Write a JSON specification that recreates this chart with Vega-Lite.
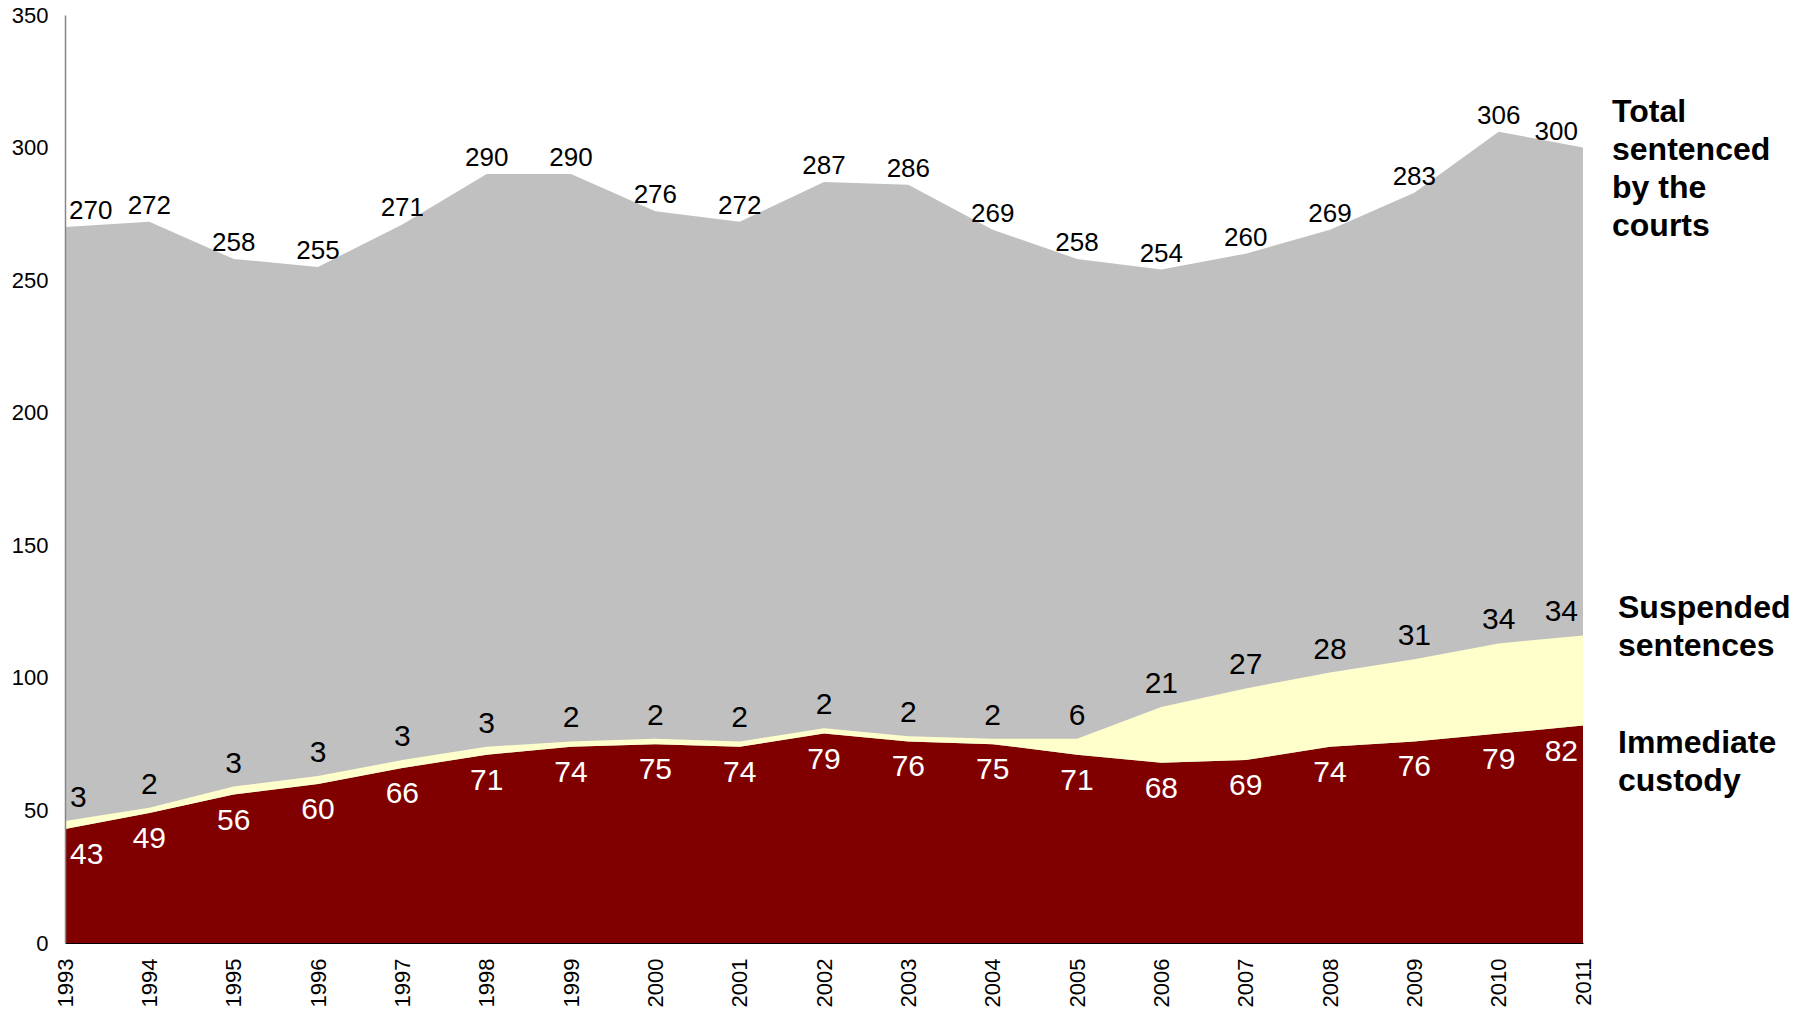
{
  "$schema": "https://vega.github.io/schema/vega-lite/v6.json",
  "autosize": "none",
  "width": 1518,
  "height": 928,
  "padding": {"left": 65, "top": 15, "right": 226, "bottom": 69},
  "background": "white",
  "config": {
    "view": {"stroke": null},
    "font": "Liberation Sans",
    "text": {"font": "Liberation Sans"}
  },
  "data": {
    "values": [
      {"year": 1993, "series": "Total", "value": 270},
      {"year": 1994, "series": "Total", "value": 272},
      {"year": 1995, "series": "Total", "value": 258},
      {"year": 1996, "series": "Total", "value": 255},
      {"year": 1997, "series": "Total", "value": 271},
      {"year": 1998, "series": "Total", "value": 290},
      {"year": 1999, "series": "Total", "value": 290},
      {"year": 2000, "series": "Total", "value": 276},
      {"year": 2001, "series": "Total", "value": 272},
      {"year": 2002, "series": "Total", "value": 287},
      {"year": 2003, "series": "Total", "value": 286},
      {"year": 2004, "series": "Total", "value": 269},
      {"year": 2005, "series": "Total", "value": 258},
      {"year": 2006, "series": "Total", "value": 254},
      {"year": 2007, "series": "Total", "value": 260},
      {"year": 2008, "series": "Total", "value": 269},
      {"year": 2009, "series": "Total", "value": 283},
      {"year": 2010, "series": "Total", "value": 306},
      {"year": 2011, "series": "Total", "value": 300},
      {"year": 1993, "series": "Immediate custody", "value": 43},
      {"year": 1994, "series": "Immediate custody", "value": 49},
      {"year": 1995, "series": "Immediate custody", "value": 56},
      {"year": 1996, "series": "Immediate custody", "value": 60},
      {"year": 1997, "series": "Immediate custody", "value": 66},
      {"year": 1998, "series": "Immediate custody", "value": 71},
      {"year": 1999, "series": "Immediate custody", "value": 74},
      {"year": 2000, "series": "Immediate custody", "value": 75},
      {"year": 2001, "series": "Immediate custody", "value": 74},
      {"year": 2002, "series": "Immediate custody", "value": 79},
      {"year": 2003, "series": "Immediate custody", "value": 76},
      {"year": 2004, "series": "Immediate custody", "value": 75},
      {"year": 2005, "series": "Immediate custody", "value": 71},
      {"year": 2006, "series": "Immediate custody", "value": 68},
      {"year": 2007, "series": "Immediate custody", "value": 69},
      {"year": 2008, "series": "Immediate custody", "value": 74},
      {"year": 2009, "series": "Immediate custody", "value": 76},
      {"year": 2010, "series": "Immediate custody", "value": 79},
      {"year": 2011, "series": "Immediate custody", "value": 82},
      {"year": 1993, "series": "Suspended sentences", "value": 3},
      {"year": 1994, "series": "Suspended sentences", "value": 2},
      {"year": 1995, "series": "Suspended sentences", "value": 3},
      {"year": 1996, "series": "Suspended sentences", "value": 3},
      {"year": 1997, "series": "Suspended sentences", "value": 3},
      {"year": 1998, "series": "Suspended sentences", "value": 3},
      {"year": 1999, "series": "Suspended sentences", "value": 2},
      {"year": 2000, "series": "Suspended sentences", "value": 2},
      {"year": 2001, "series": "Suspended sentences", "value": 2},
      {"year": 2002, "series": "Suspended sentences", "value": 2},
      {"year": 2003, "series": "Suspended sentences", "value": 2},
      {"year": 2004, "series": "Suspended sentences", "value": 2},
      {"year": 2005, "series": "Suspended sentences", "value": 6},
      {"year": 2006, "series": "Suspended sentences", "value": 21},
      {"year": 2007, "series": "Suspended sentences", "value": 27},
      {"year": 2008, "series": "Suspended sentences", "value": 28},
      {"year": 2009, "series": "Suspended sentences", "value": 31},
      {"year": 2010, "series": "Suspended sentences", "value": 34},
      {"year": 2011, "series": "Suspended sentences", "value": 34}
    ]
  },
  "encoding": {
    "x": {
      "field": "year",
      "type": "quantitative",
      "scale": {"domain": [1993, 2011], "nice": false, "zero": false},
      "axis": {
        "title": null,
        "values": [1993, 1994, 1995, 1996, 1997, 1998, 1999, 2000, 2001, 2002, 2003, 2004, 2005, 2006, 2007, 2008, 2009, 2010, 2011],
        "format": "d",
        "labelAngle": -90,
        "labelFlush": false,
        "labelOverlap": false,
        "labelFontSize": 22,
        "labelFont": "Liberation Sans",
        "labelColor": "#000000",
        "labelPadding": 15,
        "ticks": false,
        "grid": false,
        "domainColor": "#000000",
        "domainWidth": 1,
        "zindex": 1
      }
    }
  },
  "layer": [
    {
      "transform": [{"filter": "datum.series == 'Total'"}],
      "mark": {"type": "area", "color": "#C0C0C0"},
      "encoding": {
        "y": {
          "field": "value",
          "type": "quantitative",
          "scale": {"domain": [0, 350], "nice": false},
          "axis": {
            "title": null,
            "values": [0, 50, 100, 150, 200, 250, 300, 350],
            "labelFontSize": 22,
            "labelFont": "Liberation Sans",
            "labelColor": "#000000",
            "labelPadding": 17,
            "ticks": false,
            "grid": false,
            "domainColor": "#868686",
            "domainWidth": 1.5,
            "zindex": 1
          }
        }
      }
    },
    {
      "transform": [
        {"filter": "datum.series != 'Total'"},
        {"stack": "value", "groupby": ["year"], "sort": [{"field": "series", "order": "ascending"}], "as": ["v0", "v1"]}
      ],
      "mark": {"type": "area"},
      "encoding": {
        "y": {"field": "v1", "type": "quantitative"},
        "y2": {"field": "v0"},
        "color": {
          "field": "series",
          "type": "nominal",
          "scale": {"domain": ["Immediate custody", "Suspended sentences"], "range": ["#800000", "#FFFFCC"]},
          "legend": null
        }
      }
    },
    {
      "transform": [{"filter": "datum.series == 'Total'"}],
      "mark": {
        "type": "text",
        "fontSize": 26,
        "color": "#000000",
        "baseline": "alphabetic",
        "dy": -8,
        "align": {"expr": "datum.year == 1993 ? 'left' : (datum.year == 2011 ? 'right' : 'center')"},
        "dx": {"expr": "datum.year == 1993 ? 4 : (datum.year == 2011 ? -5 : 0)"}
      },
      "encoding": {
        "y": {"field": "value", "type": "quantitative"},
        "text": {"field": "value", "type": "quantitative"}
      }
    },
    {
      "transform": [
        {"filter": "datum.series != 'Total'"},
        {"stack": "value", "groupby": ["year"], "sort": [{"field": "series", "order": "ascending"}], "as": ["v0", "v1"]},
        {"filter": "datum.series == 'Suspended sentences'"}
      ],
      "mark": {
        "type": "text",
        "fontSize": 30,
        "color": "#000000",
        "baseline": "alphabetic",
        "dy": -14,
        "align": {"expr": "datum.year == 1993 ? 'left' : (datum.year == 2011 ? 'right' : 'center')"},
        "dx": {"expr": "datum.year == 1993 ? 5 : (datum.year == 2011 ? -5 : 0)"}
      },
      "encoding": {
        "y": {"field": "v1", "type": "quantitative"},
        "text": {"field": "value", "type": "quantitative"}
      }
    },
    {
      "transform": [
        {"filter": "datum.series != 'Total'"},
        {"stack": "value", "groupby": ["year"], "sort": [{"field": "series", "order": "ascending"}], "as": ["v0", "v1"]},
        {"filter": "datum.series == 'Immediate custody'"}
      ],
      "mark": {
        "type": "text",
        "fontSize": 30,
        "color": "#FFFFFF",
        "baseline": "alphabetic",
        "dy": 35,
        "align": {"expr": "datum.year == 1993 ? 'left' : (datum.year == 2011 ? 'right' : 'center')"},
        "dx": {"expr": "datum.year == 1993 ? 5 : (datum.year == 2011 ? -5 : 0)"}
      },
      "encoding": {
        "y": {"field": "v1", "type": "quantitative"},
        "text": {"field": "value", "type": "quantitative"}
      }
    },
    {
      "transform": [{"filter": "datum.series == 'Total' && datum.year == 2011"}],
      "mark": {"type": "text", "fontSize": 32, "fontWeight": "bold", "color": "#000000", "align": "left", "baseline": "alphabetic", "dx": 29, "dy": -26, "lineHeight": 38},
      "encoding": {
        "y": {"field": "value", "type": "quantitative"},
        "text": {"value": ["Total", "sentenced", "by the", "courts"]}
      }
    },
    {
      "transform": [
        {"filter": "datum.series != 'Total'"},
        {"stack": "value", "groupby": ["year"], "sort": [{"field": "series", "order": "ascending"}], "as": ["v0", "v1"]},
        {"filter": "datum.series == 'Suspended sentences' && datum.year == 2011"}
      ],
      "mark": {"type": "text", "fontSize": 32, "fontWeight": "bold", "color": "#000000", "align": "left", "baseline": "alphabetic", "dx": 35, "dy": -17, "lineHeight": 38},
      "encoding": {
        "y": {"field": "v1", "type": "quantitative"},
        "text": {"value": ["Suspended", "sentences"]}
      }
    },
    {
      "transform": [
        {"filter": "datum.series != 'Total'"},
        {"stack": "value", "groupby": ["year"], "sort": [{"field": "series", "order": "ascending"}], "as": ["v0", "v1"]},
        {"filter": "datum.series == 'Immediate custody' && datum.year == 2011"}
      ],
      "mark": {"type": "text", "fontSize": 32, "fontWeight": "bold", "color": "#000000", "align": "left", "baseline": "alphabetic", "dx": 35, "dy": 27, "lineHeight": 38},
      "encoding": {
        "y": {"field": "v1", "type": "quantitative"},
        "text": {"value": ["Immediate", "custody"]}
      }
    }
  ]
}
